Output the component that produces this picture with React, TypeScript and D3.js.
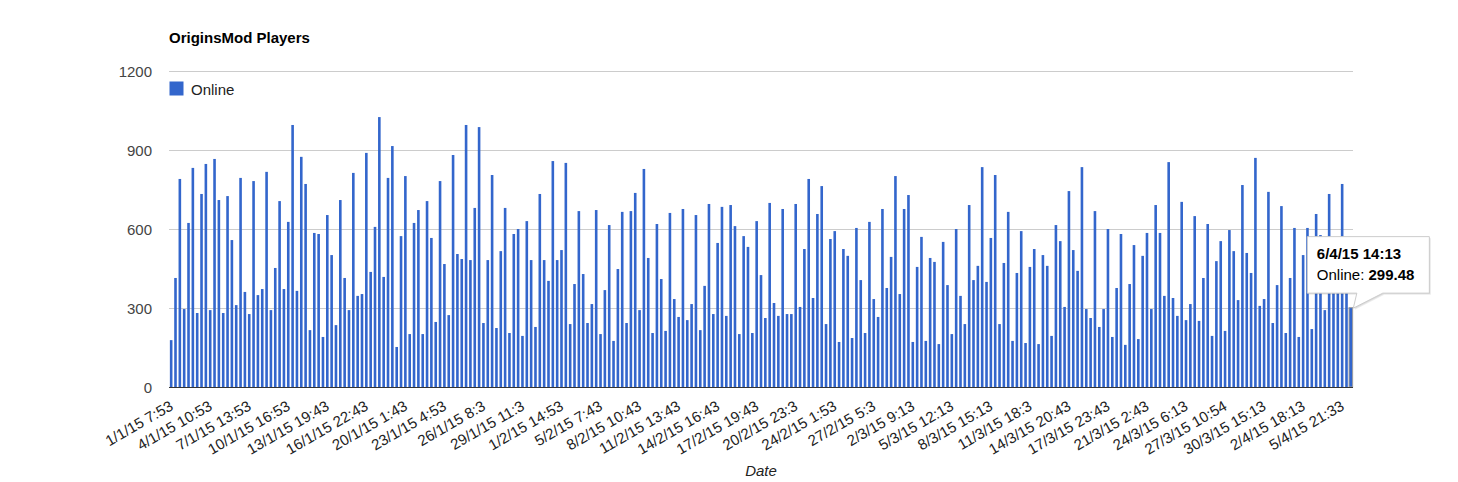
import React, { useEffect, useRef } from 'react';
import * as d3 from 'd3';

const chartTitle = 'OriginsMod Players';
const seriesName = 'Online';
const xAxisTitle = 'Date';

// one label every 9 samples
const tickLabels = [
  '1/1/15 7:53', '4/1/15 10:53', '7/1/15 13:53', '10/1/15 16:53', '13/1/15 19:43',
  '16/1/15 22:43', '20/1/15 1:43', '23/1/15 4:53', '26/1/15 8:3', '29/1/15 11:3',
  '1/2/15 14:53', '5/2/15 7:43', '8/2/15 10:43', '11/2/15 13:43', '14/2/15 16:43',
  '17/2/15 19:43', '20/2/15 23:3', '24/2/15 1:53', '27/2/15 5:3', '2/3/15 9:13',
  '5/3/15 12:13', '8/3/15 15:13', '11/3/15 18:3', '14/3/15 20:43', '17/3/15 23:43',
  '21/3/15 2:43', '24/3/15 6:13', '27/3/15 10:54', '30/3/15 15:13', '2/4/15 18:13',
  '5/4/15 21:33',
];
const TICK_EVERY = 9;

const online = [
  178, 414, 790, 296, 623, 832, 281, 733, 847, 292, 866, 710, 281, 725, 558, 311, 794, 361, 277, 782,
  349, 372, 817, 292, 452, 706, 372, 627, 995, 365, 874, 771, 216, 585, 581, 190, 653,
  501, 235, 710, 414, 292, 813, 346, 353, 889, 437, 608, 1025, 418, 794, 915, 152, 573, 801, 201,
  623, 672, 201, 706, 566, 247, 782, 467, 273, 881, 505, 486, 995, 482, 680, 987, 243, 482,
  805, 224, 516, 680, 205, 581, 600, 194, 630, 482, 228, 733, 482, 403, 858, 482, 520, 851, 239,
  391, 668, 429, 243, 315, 672, 201, 368, 615, 175, 448, 665, 243, 668, 737, 292, 828, 490,
  205, 619, 410, 213, 661, 334, 266, 676, 254, 315, 653, 216, 384, 695, 277, 547, 684, 270, 691,
  611, 201, 573, 532, 205, 630, 425, 262, 699, 319, 270, 676, 277, 277, 695, 304, 524, 790,
  338, 657, 763, 239, 562, 592, 171, 524, 498, 186, 604, 406, 205, 627, 334, 266, 676, 376, 494,
  801, 353, 676, 729, 171, 456, 570, 175, 490, 475, 163, 551, 387, 201, 600, 346, 239, 691,
  406, 460, 835, 399, 566, 805, 239, 471, 665, 175, 433, 592, 167, 456, 524, 163, 501, 460, 194,
  615, 554, 304, 744, 520, 441, 835, 296, 262, 668, 228, 296, 600, 190, 376, 581, 160, 391,
  539, 182, 498, 585, 296, 691, 585, 346, 854, 338, 270, 703, 254, 315, 649, 251, 414, 619, 194,
  478, 554, 213, 596, 516, 330, 767, 509, 433, 870, 308, 334, 741, 243, 387, 687, 205, 414,
  604, 190, 501, 604, 220, 657, 577, 292, 733, 420, 540, 771, 460, 299.48,
];

const yTicks = [0, 300, 600, 900, 1200];
const hoverLabel = '6/4/15 14:13';

const FONT = "Arial, 'Liberation Sans', sans-serif";
const BLUE = '#3366cc';

export default function App() {
  const svgRef = useRef<SVGSVGElement>(null);
  const width = 1458;
  const height = 482;

  useEffect(() => {
    if (!svgRef.current) return;
    const svg = d3.select(svgRef.current);
    svg.selectAll('*').remove();

    const plot = { left: 169, right: 1353, top: 71, bottom: 387 };

    const x = d3
      .scaleBand<number>()
      .domain(d3.range(online.length))
      .range([plot.left, plot.right])
      .paddingInner(0.4)
      .paddingOuter(0.2);

    const y = d3.scaleLinear().domain([0, 1200]).range([plot.bottom, plot.top]);

    svg.append('rect').attr('width', width).attr('height', height).attr('fill', '#fff');

    svg
      .append('text')
      .attr('x', plot.left)
      .attr('y', 43)
      .attr('font-family', FONT)
      .attr('font-size', '15px')
      .attr('font-weight', 'bold')
      .attr('fill', '#000')
      .text(chartTitle);

    // gridlines
    svg
      .append('g')
      .selectAll('line')
      .data(yTicks.filter((t) => t > 0))
      .join('line')
      .attr('x1', plot.left)
      .attr('x2', plot.right)
      .attr('y1', (d) => y(d) + 0.5)
      .attr('y2', (d) => y(d) + 0.5)
      .attr('stroke', '#cccccc');

    svg
      .append('g')
      .selectAll('text')
      .data(yTicks)
      .join('text')
      .attr('x', 152)
      .attr('y', (d) => y(d) + 5.5)
      .attr('text-anchor', 'end')
      .attr('font-family', FONT)
      .attr('font-size', '15px')
      .attr('fill', '#444')
      .text((d) => d);

    // bars
    svg
      .append('g')
      .selectAll('rect')
      .data(online)
      .join('rect')
      .attr('x', (_, i) => x(i) as number)
      .attr('width', x.bandwidth())
      .attr('y', (d) => y(d))
      .attr('height', (d) => y(0) - y(d))
      .attr('fill', BLUE);

    // hovered bar
    const last = online.length - 1;
    const lx = x(last) as number;
    svg
      .append('rect')
      .attr('x', lx - 0.5)
      .attr('width', x.bandwidth() + 1)
      .attr('y', y(online[last]) - 0.5)
      .attr('height', y(0) - y(online[last]) + 0.5)
      .attr('fill', BLUE)
      .attr('stroke', '#9e9e9e')
      .attr('stroke-width', 1);

    svg
      .append('line')
      .attr('x1', plot.left)
      .attr('x2', plot.right)
      .attr('y1', y(0) + 0.5)
      .attr('y2', y(0) + 0.5)
      .attr('stroke', '#333')
      .attr('stroke-width', 1);

    // legend
    svg
      .append('rect')
      .attr('x', 169.5)
      .attr('y', 81.5)
      .attr('width', 14)
      .attr('height', 14)
      .attr('fill', BLUE);
    svg
      .append('text')
      .attr('x', 191)
      .attr('y', 95)
      .attr('font-family', FONT)
      .attr('font-size', '15px')
      .attr('fill', '#222')
      .text(seriesName);

    // slanted x labels
    svg
      .append('g')
      .selectAll('text')
      .data(tickLabels)
      .join('text')
      .attr('transform', (_, k) => {
        const cx = (x(k * TICK_EVERY) as number) + x.bandwidth() / 2;
        return `translate(${cx + 3},409) rotate(-30)`;
      })
      .attr('text-anchor', 'end')
      .attr('font-family', FONT)
      .attr('font-size', '15px')
      .attr('fill', '#222')
      .text((d) => d);

    svg
      .append('text')
      .attr('x', (plot.left + plot.right) / 2)
      .attr('y', 476)
      .attr('text-anchor', 'middle')
      .attr('font-family', FONT)
      .attr('font-size', '15px')
      .attr('font-style', 'italic')
      .attr('fill', '#222')
      .text(xAxisTitle);

    // tooltip
    const cx = lx + x.bandwidth() / 2;
    const top = y(online[last]);
    const L = cx - 43.5;
    const R = L + 122;
    const T = top - 71.5;
    const B = top - 15;
    const path = `M${L},${T}H${R}V${B}H${cx + 32}L${cx + 2.5},${top}L${cx + 6},${B}H${L}Z`;
    const tip = svg.append('g');
    tip.append('path').attr('d', path).attr('transform', 'translate(1.5,1.5)').attr('fill', '#000').attr('opacity', 0.08);
    tip.append('path').attr('d', path).attr('transform', 'translate(0.8,0.8)').attr('fill', '#000').attr('opacity', 0.08);
    tip.append('path').attr('d', path).attr('fill', '#fff').attr('stroke', '#cccccc').attr('stroke-width', 1);
    tip
      .append('text')
      .attr('x', L + 9.5)
      .attr('y', top - 49)
      .attr('font-family', FONT)
      .attr('font-size', '15px')
      .attr('font-weight', 'bold')
      .attr('fill', '#000')
      .text(hoverLabel);
    const t2 = tip
      .append('text')
      .attr('x', L + 9.5)
      .attr('y', top - 28)
      .attr('font-family', FONT)
      .attr('font-size', '15px')
      .attr('fill', '#000');
    t2.append('tspan').text(`${seriesName}: `);
    t2.append('tspan').attr('font-weight', 'bold').text(d3.format('.2f')(online[last]));
  }, []);

  return (
    <svg
      ref={svgRef}
      width={width}
      height={height}
      style={{ position: 'absolute', left: 0, top: 0, display: 'block' }}
    />
  );
}
